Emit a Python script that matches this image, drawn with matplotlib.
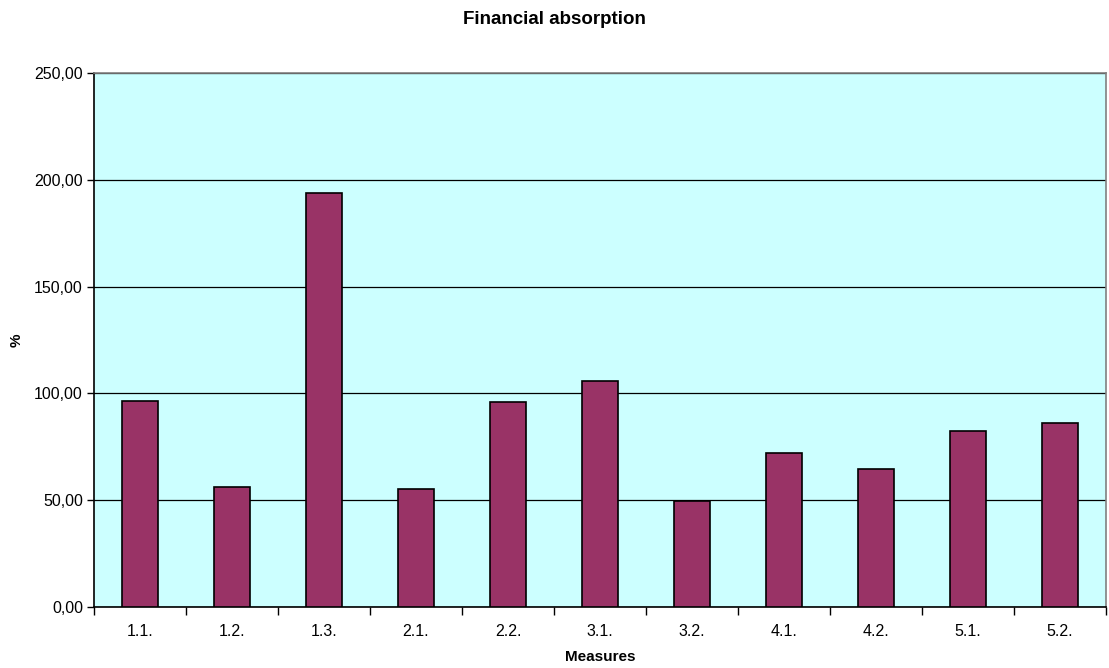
import numpy as np
import matplotlib.pyplot as plt
from matplotlib.ticker import FuncFormatter

plt.rcParams['font.family'] = ['Liberation Sans', 'DejaVu Sans']

measures = ['1.1.', '1.2.', '1.3.', '2.1.', '2.2.', '3.1.', '3.2.', '4.1.', '4.2.', '5.1.', '5.2.']
absorption = [96.4, 56.3, 193.9, 55.1, 95.9, 105.9, 49.4, 72.3, 64.5, 82.3, 86.2]
y_ticks = [0, 50, 100, 150, 200, 250]

fig = plt.figure(figsize=(11.09, 6.68), dpi=100)
ax = fig.add_axes([94 / 1109, 1 - 607 / 668, 1012 / 1109, 534 / 668])
ax.set_facecolor('#CCFFFF')

x = np.arange(len(measures))
ax.bar(x, absorption, width=0.4, color='#993366', edgecolor='black', linewidth=1.2, zorder=3)

# y axis
ax.set_ylim(0, 250)
ax.set_yticks(y_ticks)
ax.yaxis.set_major_formatter(FuncFormatter(lambda v, p: f'{v:.2f}'.replace('.', ',')))
ax.yaxis.grid(True, color='black', linewidth=0.9, zorder=1)
ax.tick_params(axis='y', direction='out', length=5, width=1, labelsize=11.5, pad=3)

# x axis: ticks between categories, labels centred under the bars
ax.set_xlim(-0.5, len(measures) - 0.5)
ax.set_xticks(np.arange(-0.5, len(measures)), labels=[])
ax.set_xticks(x, labels=measures, minor=True)
ax.tick_params(axis='x', which='major', direction='out', length=6, width=1)
ax.tick_params(axis='x', which='minor', length=0, labelsize=11.5, pad=12)

for side in ['left', 'bottom']:
    ax.spines[side].set_color('black')
    ax.spines[side].set_linewidth(1.2)
for side in ['top', 'right']:
    ax.spines[side].set_color('#808080')
    ax.spines[side].set_linewidth(1.2)

ax.set_xlabel('Measures', fontsize=11, fontweight='bold', labelpad=8)
ax.yaxis.set_label_coords(-0.070, 0.5)
ax.set_ylabel('%', fontsize=11, fontweight='bold')
fig.text(0.5, 1 - 20 / 668, 'Financial absorption', ha='center', va='center',
         fontsize=13.5, fontweight='bold')

fig.savefig('out.png', dpi=100)
